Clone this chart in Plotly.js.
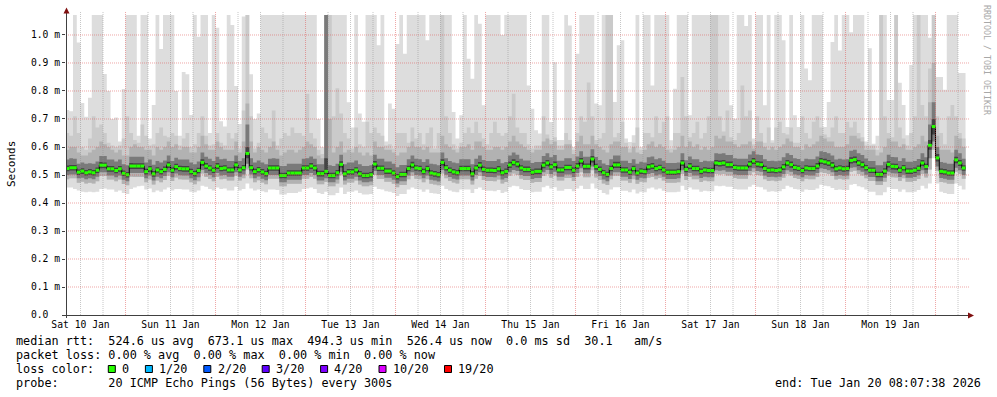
<!DOCTYPE html>
<html><head><meta charset="utf-8">
<script src="https://cdn.plot.ly/plotly-3.0.1.min.js"></script>
<style>html,body{margin:0;padding:0;background:#fff}#chart{width:997px;height:397px}</style>
</head><body><div id="chart"></div>
<script>
// ---- time base: hourly columns starting Jan 10 08:00 (values in microseconds) ----
const RANGE_START = '2026-01-10 08:07:38';
const RANGE_END   = '2026-01-20 08:07:38';
const tickDays   = ['2026-01-10','2026-01-11','2026-01-12','2026-01-13','2026-01-14','2026-01-15','2026-01-16','2026-01-17','2026-01-18','2026-01-19'];
const tickLabels = ['Sat 10 Jan','Sun 11 Jan','Mon 12 Jan','Tue 13 Jan','Wed 14 Jan','Thu 15 Jan','Fri 16 Jan','Sat 17 Jan','Sun 18 Jan','Mon 19 Jan'];
const yTickVals  = [0,0.1,0.2,0.3,0.4,0.5,0.6,0.7,0.8,0.9,1.0];
const yTickText  = ['0.0  ','0.1 m','0.2 m','0.3 m','0.4 m','0.5 m','0.6 m','0.7 m','0.8 m','0.9 m','1.0 m'];

const medianRtt = [
523,526,526,510,514,508,511,508,517,535,
535,522,522,516,522,506,501,532,532,532,
532,512,522,504,518,512,520,536,517,530,
523,522,522,512,505,516,545,532,525,517,
532,523,525,518,518,536,518,526,577,526,
512,519,511,505,525,525,525,498,498,507,
507,507,507,525,525,532,525,505,505,513,
498,498,508,538,504,511,511,518,504,498,
498,501,539,524,524,514,514,507,494,502,
502,523,536,525,523,512,523,507,504,501,
545,526,517,511,508,523,523,523,504,525,
535,520,517,517,516,522,508,513,536,545,
539,525,520,520,510,513,513,535,543,529,
537,518,518,527,527,517,532,550,531,531,
557,530,520,508,502,523,536,536,518,518,
510,523,507,514,512,529,532,523,527,518,
510,510,510,512,543,520,532,523,523,513,
518,516,516,543,541,543,537,537,527,525,
525,525,539,550,539,537,523,517,518,516,
518,529,543,537,527,524,516,525,523,523,
532,550,547,543,535,522,525,522,523,552,
555,543,537,526,517,517,502,502,514,538,
531,530,517,526,514,514,517,524,543,530,
606,673,561,513,511,507,507,554,543,525];

// ping 20 (max)
const pingMax = [
732,728,1100,973,757,708,776,1100,1100,1100,
861,800,700,705,620,807,1100,1100,1100,640,
1100,1100,630,750,1100,950,1100,1100,1100,800,
640,868,860,714,1100,994,1100,1100,650,1100,
1026,692,673,1100,1036,818,682,1066,1100,860,
700,720,1100,1100,1100,1100,1100,1100,1100,1100,
1100,1100,1100,1100,1100,1100,1100,700,600,1100,
1100,1100,1100,1100,1100,760,670,1100,720,690,
1100,1100,1100,963,1100,620,755,737,968,1100,
933,1100,1100,1100,1100,1100,981,1100,1100,1100,
1100,1100,1100,725,630,713,1100,915,844,1100,
1040,749,1100,1100,1100,1100,1000,1100,1100,1100,
1100,1100,1100,820,737,660,648,1100,1100,689,
903,625,625,1100,1034,600,933,1100,1100,1100,
1100,755,749,1100,1100,1100,761,963,981,630,
618,642,1100,600,1100,1100,820,1100,1100,1100,
1100,624,808,1100,1100,1100,713,1100,1100,1100,
1100,1100,1100,1100,1100,1100,1100,749,701,1100,
1100,1032,1100,630,1100,1100,749,1100,624,1100,
1100,981,671,1100,713,671,1100,880,838,1100,
1100,1100,671,761,975,1100,945,1100,1100,1010,
1100,1100,1100,620,953,612,640,1100,1072,768,
768,1100,829,750,642,893,1100,1100,1100,1100,
990,1100,850,850,804,1100,1100,1100,864,864];

// ping 19
const ping19 = [
650,640,710,650,600,590,630,710,670,680,
650,615,605,600,605,630,710,650,625,615,
680,640,605,610,650,670,640,635,650,640,
605,630,650,600,610,650,710,640,605,610,
650,615,605,650,630,650,595,730,1100,710,
595,615,670,650,630,730,605,630,650,640,
670,650,650,640,790,650,630,590,575,1100,
1100,710,810,720,650,630,595,670,610,600,
690,650,670,650,640,605,610,595,650,650,
650,615,670,630,650,610,650,670,595,650,
1100,710,650,610,595,615,650,670,650,690,
650,630,610,650,690,650,640,650,710,790,
670,650,650,610,595,605,605,710,645,625,
635,605,605,650,625,590,650,710,690,830,
710,625,630,650,1100,1100,635,650,690,615,
595,615,670,590,650,650,635,710,650,690,
710,595,650,650,850,710,635,650,690,630,
650,710,1100,1100,710,655,730,635,625,650,
820,710,730,610,710,650,615,670,615,670,
690,650,645,670,615,615,710,650,630,690,
710,670,645,635,670,710,650,650,690,670,
690,650,635,605,605,605,590,1100,710,650,
635,1100,670,630,605,650,710,1100,750,710,
880,1100,710,650,610,710,750,710,650,630];

// ping 18
const ping18 = [
590,600,600,580,570,570,580,590,600,620,
610,600,590,580,590,570,570,600,610,600,
600,590,590,570,600,590,600,620,600,610,
590,600,600,580,580,600,640,610,590,590,
620,600,590,590,590,620,580,620,755,620,
580,600,590,580,600,620,590,570,580,590,
590,580,590,600,620,610,600,570,560,1100,
700,580,600,620,580,590,580,600,580,570,
580,570,620,600,600,590,590,580,570,580,
580,600,620,600,600,590,600,580,580,580,
640,610,600,590,580,600,600,610,590,620,
620,600,590,590,600,600,590,600,620,640,
620,610,600,590,580,590,590,620,630,610,
620,590,590,610,610,575,620,640,610,610,
640,610,600,590,580,610,620,620,600,600,
580,600,580,575,590,610,620,600,610,600,
590,580,590,600,640,600,620,600,610,590,
600,590,600,640,630,640,620,620,610,600,
610,610,620,595,620,620,600,590,600,590,
600,610,630,620,600,600,590,610,600,610,
620,640,630,620,620,600,600,600,610,640,
640,630,620,590,590,590,570,580,600,630,
620,620,600,610,590,590,600,610,640,620,
760,900,640,590,590,590,580,640,630,600];

// ping 15
const ping15 = [
555,560,558,540,545,540,542,540,548,568,
568,555,555,548,555,538,535,565,565,565,
565,545,555,537,550,545,552,570,550,562,
555,555,555,545,538,548,580,565,558,550,
565,556,558,550,550,570,550,560,680,560,
545,552,545,538,558,560,558,532,532,540,
540,540,540,558,560,566,558,538,538,1100,
535,532,540,572,538,545,545,552,538,532,
532,535,572,558,558,548,548,540,528,536,
536,556,570,558,556,546,556,540,538,535,
580,560,550,545,542,556,556,556,538,558,
570,554,550,550,550,556,542,546,570,580,
572,558,552,552,543,546,546,568,578,563,
571,551,551,560,560,550,566,585,565,565,
592,564,554,541,536,556,570,570,551,551,
543,556,540,547,545,563,566,556,560,551,
543,543,543,545,578,553,566,556,556,546,
551,549,549,578,576,578,571,571,560,558,
558,558,573,585,573,571,556,550,551,549,
551,563,578,571,560,557,549,558,556,556,
566,585,582,578,570,555,558,555,556,587,
590,578,571,559,550,550,535,535,547,572,
564,563,550,560,547,547,550,557,578,563,
680,760,600,546,544,540,540,590,578,558];

// ping 12
const ping12 = [
534,536,536,520,524,518,521,518,527,546,
545,532,532,526,532,516,511,543,542,542,
542,522,532,514,528,522,530,547,527,540,
533,532,532,522,515,526,556,543,535,527,
543,533,535,528,528,547,528,536,600,536,
522,529,521,515,535,535,535,508,508,517,
517,517,517,535,535,543,535,515,515,560,
508,508,518,549,514,521,521,528,514,508,
508,511,550,534,534,524,524,517,504,512,
512,533,547,535,533,522,533,517,514,511,
556,536,527,521,518,533,533,533,514,535,
546,530,527,527,526,532,518,523,547,556,
550,535,530,530,520,523,523,546,554,539,
548,528,528,537,537,527,543,561,541,541,
568,540,530,518,512,533,547,547,528,528,
520,533,517,524,522,539,543,533,537,528,
520,520,520,522,554,530,543,533,533,523,
528,526,526,554,552,554,548,548,537,535,
535,535,550,561,550,548,533,527,528,526,
528,539,554,548,537,534,526,535,533,533,
543,561,558,554,546,532,535,532,533,563,
566,554,548,536,527,527,512,512,524,549,
541,540,527,536,524,524,527,534,554,540,
625,700,575,523,521,517,517,565,554,535];

// ping 9
const ping9 = [
513,516,516,500,504,498,501,498,507,524,
524,512,512,506,512,496,491,521,521,521,
521,502,512,494,508,502,510,525,507,519,
513,512,512,502,495,506,533,521,515,507,
521,513,515,508,508,525,508,516,560,516,
502,509,501,495,515,515,515,488,488,497,
497,497,497,515,515,521,515,495,495,503,
488,488,498,527,494,501,501,508,494,488,
488,491,528,514,514,504,504,497,484,492,
492,513,525,515,513,502,513,497,494,491,
534,516,507,501,498,513,513,513,494,515,
524,510,507,507,506,512,498,503,525,534,
528,515,510,510,500,503,503,524,532,519,
526,508,508,517,517,507,521,539,520,520,
545,519,510,498,492,513,525,525,508,508,
500,513,497,504,502,518,521,513,517,508,
500,500,500,502,532,510,521,513,513,503,
508,506,506,532,530,532,526,526,517,515,
515,515,528,539,528,526,513,507,508,506,
508,518,532,526,517,514,506,515,513,513,
521,539,536,532,524,512,515,512,513,541,
544,532,526,516,507,507,492,492,504,527,
520,519,507,516,504,504,507,514,532,519,
590,645,548,503,501,497,497,542,532,515];

// ping 6
const ping6 = [
500,502,502,488,490,485,488,485,494,510,
510,498,498,492,498,483,478,507,507,507,
507,488,498,480,494,488,496,510,492,505,
499,498,498,488,481,492,518,507,500,492,
507,498,500,494,494,510,494,502,540,502,
488,495,487,481,500,500,500,474,474,483,
483,483,483,500,500,507,500,480,480,488,
474,474,484,512,480,487,487,494,480,474,
474,477,514,500,500,490,490,483,470,478,
478,498,510,500,498,488,498,483,480,477,
518,501,493,487,484,498,498,498,480,500,
510,496,493,493,492,498,484,489,510,518,
514,500,496,496,486,489,489,510,518,504,
512,494,494,502,502,493,507,524,506,506,
530,505,496,484,478,498,510,510,494,494,
486,498,483,490,488,504,507,498,502,494,
486,486,486,488,517,496,507,498,498,489,
494,492,492,517,515,517,512,512,502,500,
500,500,514,524,514,512,498,493,494,492,
494,504,517,512,502,499,492,500,498,498,
507,524,521,517,510,497,500,497,498,526,
528,517,512,501,493,493,478,478,490,512,
506,505,493,501,490,490,493,499,517,505,
560,620,530,489,487,483,483,526,517,500];

// ping 3
const ping3 = [
485,488,488,472,476,470,472,470,478,496,
496,484,484,478,484,468,463,494,493,493,
493,474,484,466,480,474,482,497,479,491,
485,484,484,474,467,478,505,493,486,478,
493,485,487,480,480,497,480,488,520,488,
474,481,473,467,487,487,487,460,460,469,
469,469,469,487,487,493,487,467,467,475,
460,460,470,499,466,473,473,480,466,460,
460,463,500,486,486,476,476,469,456,464,
464,485,497,487,485,474,485,469,466,463,
505,488,479,473,470,485,485,485,466,487,
496,482,479,479,478,484,470,475,497,505,
500,487,482,482,472,475,475,496,504,490,
498,480,480,489,489,479,493,510,492,492,
517,491,482,470,464,485,497,497,480,480,
472,485,469,476,474,490,493,485,489,480,
472,472,472,474,504,482,493,485,485,475,
480,478,478,504,502,504,498,498,489,487,
487,487,500,510,500,498,485,479,480,478,
480,490,504,498,489,486,478,487,485,485,
493,510,507,504,496,484,487,484,485,512,
515,504,498,488,479,479,464,464,476,498,
492,491,479,488,476,476,479,486,504,491,
520,590,515,475,473,469,469,512,504,487];

// ping 1 (min)
const pingMin = [
455,455,450,445,440,438,440,438,440,450,
452,448,448,440,445,436,432,450,455,460,
462,448,452,438,445,440,448,455,445,450,
450,448,448,440,438,445,462,458,450,445,
455,450,452,445,445,458,445,450,470,452,
445,448,442,438,448,448,446,430,430,436,
436,436,440,450,452,455,450,436,432,440,
428,428,436,455,432,440,440,445,436,430,
430,432,458,450,448,442,440,436,425,432,
432,448,455,450,448,440,448,436,434,432,
462,450,445,440,438,448,448,448,436,450,
455,446,444,444,442,446,436,440,456,462,
460,450,446,446,438,440,440,456,462,452,
456,444,444,450,450,442,452,462,450,450,
470,452,446,436,430,448,456,456,444,444,
438,448,434,440,438,452,455,448,452,444,
438,438,438,440,462,446,455,448,448,440,
444,442,442,462,460,462,458,458,450,448,
448,448,458,465,458,456,448,440,442,440,
442,450,462,456,450,448,440,448,446,446,
452,465,462,460,454,446,448,446,446,465,
468,460,456,448,440,440,428,428,438,456,
450,450,440,448,438,438,440,446,462,452,
470,560,470,440,436,432,432,470,462,448];

const lossLabels = ['0','1/20','2/20','3/20','4/20','10/20','19/20'];
const lossColors = ['#26ff00','#00b8ff','#0059ff','#5e00ff','#7e00ff','#dd00ff','#ff0000'];

// ---- build ----
const p2 = n => String(n).padStart(2,'0');
function fmt(ms){const d=new Date(ms);return d.getUTCFullYear()+'-'+p2(d.getUTCMonth()+1)+'-'+p2(d.getUTCDate())+' '+p2(d.getUTCHours())+':'+p2(d.getUTCMinutes())+':'+p2(d.getUTCSeconds());}
const T0 = Date.UTC(2026,0,10,8,0,0), HOUR = 3600000;
const N = medianRtt.length;
const edges = []; for(let k=0;k<=N;k++) edges.push(fmt(T0+k*HOUR));
const us = v => v*1e-6;
const stepY = a => a.map(us).concat([us(a[a.length-1])]);

const layers = [
  {lo: pingMin, hi: pingMax, color:'#dddddd'},
  {lo: ping3,   hi: ping19,  color:'#cacaca'},
  {lo: ping3,   hi: ping18,  color:'#b2b2b2'},
  {lo: ping6,   hi: ping15,  color:'#7a7a7a'},
  {lo: ping9,   hi: ping12,  color:'#444444'}
];
const traces = [];
layers.forEach(Ly=>{
  traces.push({x:edges,y:stepY(Ly.lo),mode:'lines',line:{width:0,shape:'hv'},hoverinfo:'skip',showlegend:false});
  traces.push({x:edges,y:stepY(Ly.hi),mode:'lines',line:{width:0,shape:'hv'},fill:'tonexty',fillcolor:Ly.color,hoverinfo:'skip',showlegend:false});
});
traces.push({x:edges,y:stepY(medianRtt),mode:'lines',line:{width:1,shape:'hv',color:'#000000'},hoverinfo:'skip',showlegend:false});
const gx=[],gy=[];
medianRtt.forEach((m,k)=>{gx.push(edges[k],edges[k+1],null);gy.push(us(m),us(m),null);});
traces.push({x:gx,y:gy,mode:'lines',line:{width:3,color:'#26ff00'},connectgaps:false,hoverinfo:'skip',showlegend:false});

// ---- frame geometry (pixels) ----
const L=66,R=966,T=15,B=315,W=R-L,H=B-T;
const px = x => (x-L)/W, py = y => (B-y)/H;
const YMAX = 1.0714e-3;
const shapes = [];
const MGRID='rgba(224,80,80,0.5)', GRID='rgba(144,144,144,0.5)';
const tEnd = Date.UTC(2026,0,20,8,7,38);
for(let t=Date.UTC(2026,0,10,12);t<tEnd;t+=6*HOUR){
  const major = new Date(t).getUTCHours()===0;
  shapes.push({type:'line',layer:'above',xref:'x',yref:'paper',x0:fmt(t),x1:fmt(t),y0:0,y1:py(12),line:{color:major?MGRID:GRID,width:1,dash:'1px,1px'}});
}
yTickVals.slice(1).forEach(v=>{
  shapes.push({type:'line',layer:'above',xref:'paper',yref:'y',x0:0,x1:px(969),y0:v*1e-3,y1:v*1e-3,line:{color:MGRID,width:1,dash:'1px,1px'}});
});
shapes.push({type:'line',layer:'above',xref:'paper',yref:'paper',x0:px(63),x1:px(969),y0:py(315.5),y1:py(315.5),line:{color:'#404040',width:1}});
shapes.push({type:'line',layer:'above',xref:'paper',yref:'paper',x0:px(66.5),x1:px(66.5),y0:py(318),y1:py(12),line:{color:'#404040',width:1}});
shapes.push({type:'path',layer:'above',xref:'paper',yref:'paper',path:`M ${px(63.5)} ${py(13.5)} L ${px(69.5)} ${py(13.5)} L ${px(66.5)} ${py(7.5)} Z`,fillcolor:'#801010',line:{width:0}});
shapes.push({type:'path',layer:'above',xref:'paper',yref:'paper',path:`M ${px(968)} ${py(312.5)} L ${px(968)} ${py(318.5)} L ${px(974)} ${py(315.5)} Z`,fillcolor:'#801010',line:{width:0}});

// ---- texts ----
const nb = s => s.replace(/ /g,'\u00a0');
const MONO = 'DejaVu Sans Mono';
const ann = [];
function txt(s,x,y,opt){ann.push(Object.assign({text:nb(s),xref:'paper',yref:'paper',x:px(x),y:py(y),xanchor:'left',yanchor:'middle',showarrow:false,borderpad:0,borderwidth:0,font:{family:MONO,size:11.8,color:'#000'}},opt||{}));}
txt('Seconds',11,164,{xanchor:'center',textangle:-90,font:{family:MONO,size:11,color:'#000'}});
txt('RRDTOOL / TOBI OETIKER',987,60,{xanchor:'center',textangle:90,font:{family:MONO,size:8.3,color:'#a8a8a8'}});
txt('median rtt:  524.6 us avg  673.1 us max  494.3 us min  526.4 us now  0.0 ms sd  30.1   am/s',16,341);
txt('packet loss: 0.00 % avg  0.00 % max  0.00 % min  0.00 % now',16,355);
txt('loss color:',16,369);
txt('probe:       20 ICMP Echo Pings (56 Bytes) every 300s',16,383);
txt('end: Tue Jan 20 08:07:38 2026',981,383,{xanchor:'right'});
let sx = 108.3;
lossLabels.forEach((lab,i)=>{
  shapes.push({type:'rect',layer:'above',xref:'paper',yref:'paper',x0:px(sx),x1:px(sx+7),y0:py(372.5),y1:py(365.5),fillcolor:lossColors[i],line:{color:'#000',width:1}});
  txt(lab,sx+13.7,369);
  sx = sx+13.7+lab.length*7.1+16.3;
});

const layout = {
  width:997,height:397,margin:{l:L,r:997-R,t:T,b:397-B,pad:0},
  paper_bgcolor:'#ffffff',plot_bgcolor:'#ffffff',showlegend:false,
  xaxis:{type:'date',range:[RANGE_START,RANGE_END],tickmode:'array',
    tickvals:tickDays.map(d=>d+' 12:00'),ticktext:tickLabels,ticks:'',ticklabelstandoff:2,showgrid:false,zeroline:false,showline:false,
    tickfont:{family:MONO,size:9.7,color:'#000'},fixedrange:true},
  yaxis:{range:[0,YMAX],tickmode:'array',tickvals:yTickVals.map(v=>v*1e-3),ticktext:yTickText.map(nb),
    ticks:'outside',ticklen:3,tickcolor:'#404040',showgrid:false,zeroline:false,showline:false,
    tickfont:{family:MONO,size:9.7,color:'#000'},fixedrange:true},
  shapes:shapes,annotations:ann
};
Plotly.newPlot('chart',traces,layout,{staticPlot:true,displayModeBar:false});
</script></body></html>
